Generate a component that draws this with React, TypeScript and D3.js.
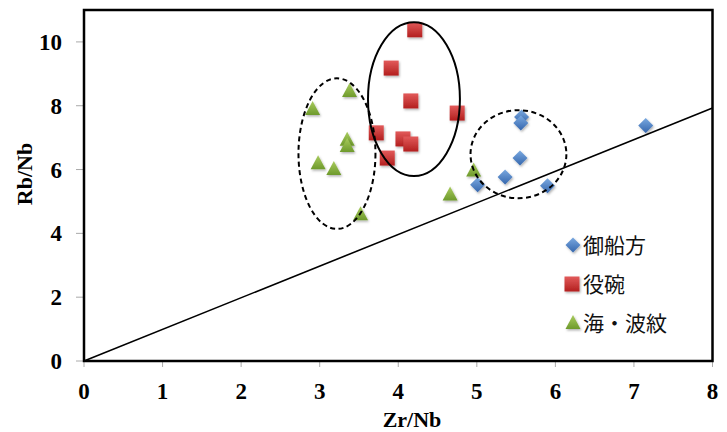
import React from "react";
import * as d3 from "d3";

// 御船方
const mifunekataX = [7.15, 5.57, 5.56, 5.55, 5.36, 5.01, 5.9];
const mifunekataY = [7.38, 7.65, 7.46, 6.36, 5.77, 5.52, 5.49];
// 役碗
const yakuwanX = [4.21, 3.91, 4.16, 4.75, 3.72, 4.06, 4.16, 3.86];
const yakuwanY = [10.38, 9.18, 8.15, 7.77, 7.15, 6.96, 6.8, 6.36];
// 海・波紋
const umiX = [3.38, 2.91, 3.35, 3.35, 2.98, 3.18, 3.52, 4.66, 4.96];
const umiY = [8.46, 7.9, 6.93, 6.74, 6.2, 6.02, 4.6, 5.22, 5.97];

const seriesNames = ["御船方", "役碗", "海・波紋"];
const xTicks = [0, 1, 2, 3, 4, 5, 6, 7, 8];
const yTicks = [0, 2, 4, 6, 8, 10];
const refLine = [[0, 0], [8, 7.93]];
// hand-drawn grouping ellipses: cx, cy, rx, ry (data units), dashed
const ellipses = [
  { cx: 4.2, cy: 8.21, rx: 0.585, ry: 2.41, dashed: false },
  { cx: 3.22, cy: 6.5, rx: 0.49, ry: 2.36, dashed: true },
  { cx: 5.53, cy: 6.48, rx: 0.61, ry: 1.38, dashed: true },
];

const W = 727, H = 432;
const left = 84, right = 712.5, top = 10, bottom = 361;

export default function App() {
  const x = d3.scaleLinear().domain([0, 8]).range([left, right]);
  const y = d3.scaleLinear().domain([0, 11]).range([bottom, top]);

  const blue = mifunekataX.map((v, i) => [v, mifunekataY[i]]);
  const red = yakuwanX.map((v, i) => [v, yakuwanY[i]]);
  const green = umiX.map((v, i) => [v, umiY[i]]);

  const diamond = (cx: number, cy: number, key: any) => (
    <path key={key} d={`M${cx},${cy - 7.5}L${cx + 7.5},${cy}L${cx},${cy + 7.5}L${cx - 7.5},${cy}Z`}
      fill="url(#gBlue)" filter="url(#sh)" />
  );
  const square = (cx: number, cy: number, key: any) => (
    <rect key={key} x={cx - 7.5} y={cy - 7.5} width={15} height={15} fill="url(#gRed)" filter="url(#sh)" />
  );
  const triangle = (cx: number, cy: number, key: any) => (
    <path key={key} d={`M${cx},${cy - 8}L${cx + 7.5},${cy + 6}L${cx - 7.5},${cy + 6}Z`}
      fill="url(#gGreen)" filter="url(#sh)" />
  );

  const line = d3.line<number[]>().x(d => x(d[0])).y(d => y(d[1]));
  const serif = "'Liberation Serif', 'Times New Roman', serif";
  const cjk = "'Noto Sans CJK JP', sans-serif";

  return (
    <div style={{ position: "absolute", left: 0, top: 0 }}>
      <svg width={W} height={H} style={{ display: "block", background: "#fff" }}>
        <defs>
          <linearGradient id="gBlue" x1="0" y1="0" x2="0" y2="1">
            <stop offset="0" stopColor="#7aa9e0" />
            <stop offset="1" stopColor="#3566ad" />
          </linearGradient>
          <linearGradient id="gRed" x1="0" y1="0" x2="0" y2="1">
            <stop offset="0" stopColor="#e25a5a" />
            <stop offset="1" stopColor="#b3201f" />
          </linearGradient>
          <linearGradient id="gGreen" x1="0" y1="0" x2="0" y2="1">
            <stop offset="0" stopColor="#a9cc5e" />
            <stop offset="1" stopColor="#6e9a2c" />
          </linearGradient>
          <filter id="sh" x="-30%" y="-30%" width="170%" height="170%">
            <feDropShadow dx="1" dy="1.5" stdDeviation="1" floodColor="#000" floodOpacity="0.3" />
          </filter>
        </defs>

        {/* ticks */}
        {yTicks.map(t => (
          <g key={"y" + t}>
            <line x1={left - 8} x2={left} y1={y(t)} y2={y(t)} stroke="#aaa" strokeWidth={1} />
            <text x={62} y={y(t)} dy="0.35em" textAnchor="end" fontFamily={serif} fontWeight="bold" fontSize={23}>{t}</text>
          </g>
        ))}
        {xTicks.map(t => (
          <g key={"x" + t}>
            <line x1={x(t)} x2={x(t)} y1={bottom} y2={bottom + 6} stroke="#aaa" strokeWidth={1} />
            <text x={x(t)} y={391} dy="0.35em" textAnchor="middle" fontFamily={serif} fontWeight="bold" fontSize={23}>{t}</text>
          </g>
        ))}

        {/* reference line y = x */}
        <path d={line(refLine) || ""} stroke="#000" strokeWidth={1.6} fill="none" />

        {/* markers */}
        {red.map((d, i) => square(x(d[0]), y(d[1]), "r" + i))}
        {green.map((d, i) => triangle(x(d[0]), y(d[1]), "g" + i))}
        {blue.map((d, i) => diamond(x(d[0]), y(d[1]), "b" + i))}

        {/* grouping ellipses */}
        {ellipses.map((e, i) => (
          <ellipse key={"e" + i} cx={x(e.cx)} cy={y(e.cy)}
            rx={x(e.cx + e.rx) - x(e.cx)} ry={y(e.cy) - y(e.cy + e.ry)}
            fill="none" stroke="#000" strokeWidth={2}
            strokeDasharray={e.dashed ? "5,3.5" : undefined} />
        ))}

        {/* frame */}
        <rect x={left} y={top} width={right - left} height={bottom - top} fill="none" stroke="#000" strokeWidth={2.5} />

        {/* axis titles */}
        <text x={412} y={419} dy="0.35em" textAnchor="middle" fontFamily={serif} fontWeight="bold" fontSize={22}>Zr/Nb</text>
        <text transform="translate(24,174) rotate(-90)" dy="0.35em" textAnchor="middle" fontFamily={serif} fontWeight="bold" fontSize={22}>Rb/Nb</text>

        {/* legend */}
        {seriesNames.map((name, i) => {
          const ly = [245, 284, 323][i];
          const mk = i === 0 ? diamond(573, ly, "lm") : i === 1 ? square(572, ly, "lm") : triangle(573, ly, "lm");
          return (
            <g key={"l" + i}>
              {mk}
              <text x={583} y={ly} dy="0.36em" fontFamily={cjk} fontSize={21} fill="#111">{name}</text>
            </g>
          );
        })}
      </svg>
    </div>
  );
}
